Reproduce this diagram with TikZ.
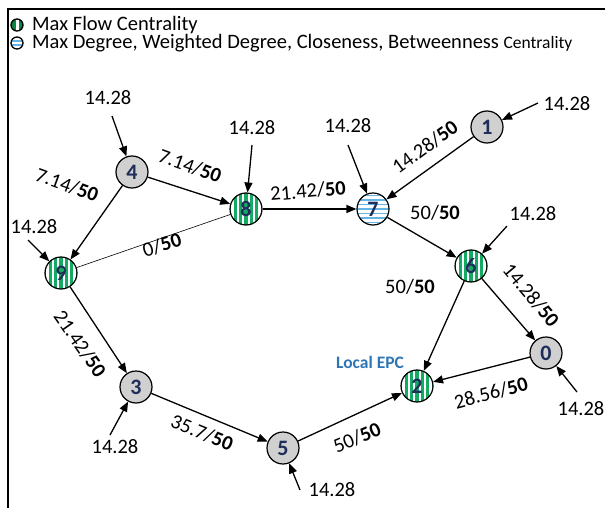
\documentclass[tikz,border=0pt]{standalone}
\usepackage{fontspec}
\setmainfont{Carlito}
\usetikzlibrary{arrows.meta}
\definecolor{stripegreen}{RGB}{20,170,100}
\definecolor{iconGreen}{RGB}{15,130,70}
\definecolor{stripeblue}{RGB}{100,180,230}
\definecolor{nodegray}{RGB}{208,208,208}
\definecolor{numcol}{RGB}{31,45,90}
\definecolor{epcblue}{RGB}{46,117,182}
\tikzset{
  vert/.style={circle, draw=black, line width=1.2pt, minimum size=32pt, inner sep=0pt,
    font=\fontsize{22}{24}\selectfont\bfseries, text=numcol},
  graynode/.style={vert, fill=nodegray},
  vstripes/.style={vert, fill=white, path picture={
    \foreach \i in {-6,...,6} {
      \fill[stripegreen] ([xshift=\i*5.4pt-1.6pt]path picture bounding box.south) rectangle ([xshift=\i*5.4pt+1.6pt]path picture bounding box.north);
    }}},
  hstripes/.style={vert, fill=white, path picture={
    \foreach \i in {-7,...,7} {
      \fill[stripeblue] ([yshift=\i*4.5pt-0.8pt]path picture bounding box.west) rectangle ([yshift=\i*4.5pt+0.8pt]path picture bounding box.east);
    }}},
  arr/.style={line width=1.3pt, -{Triangle[length=10pt,width=8pt]}},
  thin/.style={line width=0.6pt},
  lbl/.style={font=\fontsize{20.5}{23}\selectfont, inner sep=0pt},
  inlbl/.style={font=\fontsize{20.5}{23}\selectfont, inner sep=0pt},
}
\newcommand{\fl}[1]{#1/\textbf{50}}
\begin{document}
\begin{tikzpicture}[x=1pt,y=-1pt]
\useasboundingbox (0,0) rectangle (605,508);
\draw[line width=1.3pt] (8,508) -- (8,9) -- (605,9);

% legend
\node[circle, draw=black, line width=1.3pt, fill=iconGreen, minimum size=12pt, inner sep=0pt,
  path picture={\fill[white] ([xshift=-1.5pt]path picture bounding box.south) rectangle ([xshift=1.5pt]path picture bounding box.north);}] (ic1) at (17,25) {};
\node[circle, draw=black, line width=1.3pt, fill=white, minimum size=12pt, inner sep=0pt,
  path picture={\fill[stripeblue] ([yshift=-2.8pt]path picture bounding box.west) rectangle ([yshift=-1.2pt]path picture bounding box.east);
                \fill[stripeblue] ([yshift=1.2pt]path picture bounding box.west) rectangle ([yshift=2.8pt]path picture bounding box.east);}] (ic2) at (17,43) {};
\node[anchor=west, lbl] (lg1) at (32,25) {Max Flow Centrality};
\node[anchor=west, lbl] (lg2) at (32,43) {Max Degree, Weighted Degree, Closeness, Betweenness {\fontsize{17.5}{20}\selectfont Centrality}};

% nodes
\node[graynode] (n4) at (132,172) {4};
\node[vstripes] (n8) at (246,209) {8};
\node[vstripes] (n9) at (61,273) {9};
\node[hstripes] (n7) at (373,209) {7};
\node[graynode] (n1) at (487,127) {1};
\node[vstripes] (n6) at (471,266) {6};
\node[graynode] (n0) at (546,353) {0};
\node[vstripes] (n2) at (417,386) {2};
\node[graynode] (n3) at (136,387) {3};
\node[graynode] (n5) at (283,448) {5};

\node[font=\fontsize{17.5}{20}\selectfont\bfseries, text=epcblue, inner sep=0pt] (epc) at (370,362) {Local EPC};

% edges
\draw[arr] (n4) -- (n8);
\draw[arr] (n4) -- (n9);
\draw[thin] (n9) -- (n8);
\draw[arr] (n8) -- (n7);
\draw[arr] (n1) -- (n7);
\draw[arr] (n7) -- (n6);
\draw[arr] (n6) -- (n2);
\draw[arr] (n6) -- (n0);
\draw[arr] (n0) -- (n2);
\draw[arr] (n9) -- (n3);
\draw[arr] (n3) -- (n5);
\draw[arr] (n5) -- (n2);

% edge labels
\node[lbl, rotate=-20] (l48) at (190,166) {\fl{7.14}};
\node[lbl, rotate=-20] (l49) at (67,185) {\fl{7.14}};
\node[lbl, rotate=17] (l98) at (162,245) {\fl{0}};
\node[lbl, rotate=5] (l87) at (308,191) {\fl{21.42}};
\node[lbl, rotate=36] (l17) at (425,147) {\fl{14.28}};
\node[lbl] (l76) at (435,213) {\fl{50}};
\node[lbl] (l62) at (410,287) {\fl{50}};
\node[lbl, rotate=-50] (l60) at (531,295) {\fl{14.28}};
\node[lbl, rotate=15] (l02) at (491,393) {\fl{28.56}};
\node[lbl, rotate=-55] (l93) at (80,344) {\fl{21.42}};
\node[lbl, rotate=-22] (l35) at (202,433) {\fl{35.7}};
\node[lbl, rotate=23] (l52) at (357,438) {\fl{50}};

% inputs
\node[inlbl] (i4) at (108,98) {14.28};
\node[inlbl] (i8) at (252,128) {14.28};
\node[inlbl] (i9) at (34,227) {14.28};
\node[inlbl] (i7) at (348,126) {14.28};
\node[inlbl] (i1) at (567,104) {14.28};
\node[inlbl] (i6) at (533,214) {14.28};
\node[inlbl] (i0) at (581,409) {14.28};
\node[inlbl] (i3) at (115,447) {14.28};
\node[inlbl] (i5) at (332,490) {14.28};

\coordinate (s4) at (112,116);
\coordinate (s8) at (252,145);
\coordinate (s9) at (28,240);
\coordinate (s7) at (348,145);
\coordinate (s1) at (538,103);
\coordinate (s6) at (507,226);
\coordinate (s0) at (577,392);
\coordinate (s3) at (110,435);
\coordinate (s5) at (300,490);

\draw[arr] (s4) -- (n4);
\draw[arr] (s8) -- (n8);
\draw[arr] (s9) -- (n9);
\draw[arr] (s7) -- (n7);
\draw[arr] (s1) -- (n1);
\draw[arr] (s6) -- (n6);
\draw[arr] (s0) -- (n0);
\draw[arr] (s3) -- (n3);
\draw[arr] (s5) -- (n5);
\end{tikzpicture}
\end{document}
